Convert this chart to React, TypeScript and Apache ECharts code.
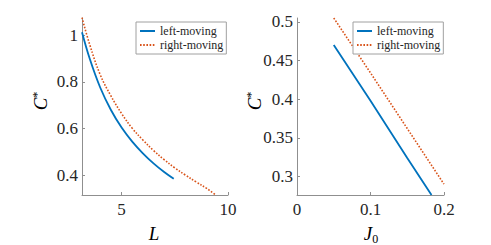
import React, { useEffect, useRef } from "react";
import * as echarts from "echarts";

// Left panel: C* vs L
const leftBlueL = [3.14, 3.5, 4.0, 4.5, 5.0, 5.5, 6.0, 6.5, 7.0, 7.45];
const leftBlueC = [1.012, 0.9, 0.775, 0.68, 0.605, 0.545, 0.495, 0.452, 0.415, 0.386];
const leftRedL = [3.14, 3.5, 4.0, 4.5, 5.0, 5.5, 6.0, 6.5, 7.0, 7.5, 8.0, 8.5, 9.0, 9.4];
const leftRedC = [1.075, 0.96, 0.83, 0.74, 0.665, 0.602, 0.552, 0.507, 0.468, 0.433, 0.402, 0.373, 0.345, 0.318];
const leftXTicks = [5, 10];
const leftYTicks = [0.4, 0.6, 0.8, 1];

// Right panel: C* vs J0
const rightBlueJ = [0.05, 0.1, 0.15, 0.183];
const rightBlueC = [0.47, 0.398, 0.324, 0.276];
const rightRedJ = [0.05, 0.1, 0.15, 0.2];
const rightRedC = [0.505, 0.434, 0.362, 0.29];
const rightYTicks = [0.3, 0.35, 0.4, 0.45, 0.5];

const seriesNames = ["left-moving", "right-moving"];

const BLUE = "#0072BD";
const RED = "#D95319";
const TEXT = "#262626";
const AXIS = "#8f8f8f";
const FONT = "'Liberation Serif', 'Times New Roman', serif";

const zip = (xs: number[], ys: number[]) => xs.map((x, i) => [x, ys[i]]);

export default function App() {
  const ref = useRef<HTMLDivElement>(null);
  useEffect(() => {
    if (!ref.current) return;
    const chart = echarts.init(ref.current, undefined, { renderer: "svg" });
    const axisCommon = {
      axisLine: { show: true, lineStyle: { color: AXIS, width: 1 } },
      axisTick: { show: true, inside: true, length: 3, lineStyle: { color: AXIS } },
      splitLine: { show: false },
    };
    const labelStyle = { color: TEXT, fontFamily: FONT, fontSize: 17 };
    const legendCommon = {
      orient: "vertical" as const,
      data: seriesNames,
      itemWidth: 15,
      itemHeight: 8,
      itemGap: 2,
      itemTextGap: 3,
      padding: [3, 3, 3, 3],
      borderColor: "#a0a0a0",
      borderWidth: 1,
      backgroundColor: "#fff",
      itemStyle: { opacity: 0 },
      textStyle: { color: TEXT, fontFamily: FONT, fontSize: 12, lineHeight: 12 },
      selectedMode: false,
    };
    const rich = {
      i: { fontFamily: FONT, fontStyle: "italic", fontSize: 19, color: TEXT, lineHeight: 19 },
      s: { fontFamily: FONT, fontSize: 12, color: TEXT, verticalAlign: "top", lineHeight: 19 },
      sub: { fontFamily: FONT, fontSize: 12, color: TEXT, verticalAlign: "bottom", lineHeight: 24 },
    };
    chart.setOption({
      animation: false,
      backgroundColor: "#fff",
      grid: [
        { left: 82, top: 18, width: 146, height: 177 },
        { left: 297, top: 18, width: 147, height: 177 },
      ],
      xAxis: [
        {
          gridIndex: 0,
          type: "value",
          min: 3.14,
          max: 10,
          ...axisCommon,
          axisTick: { ...axisCommon.axisTick, customValues: leftXTicks },
          axisLabel: { ...labelStyle, margin: 6, customValues: leftXTicks },
        },
        {
          gridIndex: 1,
          type: "value",
          min: 0,
          max: 0.2,
          interval: 0.1,
          ...axisCommon,
          axisLabel: { ...labelStyle, margin: 6 },
        },
      ],
      yAxis: [
        {
          gridIndex: 0,
          type: "value",
          min: 0.317,
          max: 1.073,
          ...axisCommon,
          axisTick: { ...axisCommon.axisTick, customValues: leftYTicks },
          axisLabel: { ...labelStyle, margin: 4, customValues: leftYTicks },
        },
        {
          gridIndex: 1,
          type: "value",
          min: 0.276,
          max: 0.505,
          ...axisCommon,
          axisTick: { ...axisCommon.axisTick, customValues: rightYTicks },
          axisLabel: { ...labelStyle, margin: 4, customValues: rightYTicks },
        },
      ],
      legend: [
        { ...legendCommon, left: 136, top: 22 },
        { ...legendCommon, left: 353, top: 22 },
      ],
      series: [
        {
          name: seriesNames[0],
          type: "line",
          xAxisIndex: 0,
          yAxisIndex: 0,
          data: zip(leftBlueL, leftBlueC),
          smooth: 0.4,
          symbol: "none",
          clip: true,
          lineStyle: { color: BLUE, width: 1.8 },
          itemStyle: { color: BLUE },
        },
        {
          name: seriesNames[1],
          type: "line",
          xAxisIndex: 0,
          yAxisIndex: 0,
          data: zip(leftRedL, leftRedC),
          smooth: 0.4,
          symbol: "none",
          clip: true,
          lineStyle: { color: RED, width: 1.6, type: [1.6, 1.6] },
          itemStyle: { color: RED },
        },
        {
          name: seriesNames[0],
          type: "line",
          xAxisIndex: 1,
          yAxisIndex: 1,
          data: zip(rightBlueJ, rightBlueC),
          symbol: "none",
          clip: true,
          lineStyle: { color: BLUE, width: 1.8 },
          itemStyle: { color: BLUE },
        },
        {
          name: seriesNames[1],
          type: "line",
          xAxisIndex: 1,
          yAxisIndex: 1,
          data: zip(rightRedJ, rightRedC),
          symbol: "none",
          clip: true,
          lineStyle: { color: RED, width: 1.6, type: [1.6, 1.6] },
          itemStyle: { color: RED },
        },
      ],
      graphic: [
        {
          type: "text",
          x: 40,
          y: 101,
          rotation: Math.PI / 2,
          style: { text: "{i|C}{s|*}", rich, align: "center", verticalAlign: "middle" },
        },
        {
          type: "text",
          x: 254,
          y: 101,
          rotation: Math.PI / 2,
          style: { text: "{i|C}{s|*}", rich, align: "center", verticalAlign: "middle" },
        },
        {
          type: "text",
          x: 154,
          y: 233,
          style: { text: "{i|L}", rich, align: "center", verticalAlign: "middle" },
        },
        {
          type: "text",
          x: 371,
          y: 233,
          style: { text: "{i|J}{sub|0}", rich, align: "center", verticalAlign: "middle" },
        },
      ],
    });
    return () => chart.dispose();
  }, []);
  return (
    <div
      ref={ref}
      style={{ position: "absolute", left: 0, top: 0, width: 491, height: 245 }}
    />
  );
}
